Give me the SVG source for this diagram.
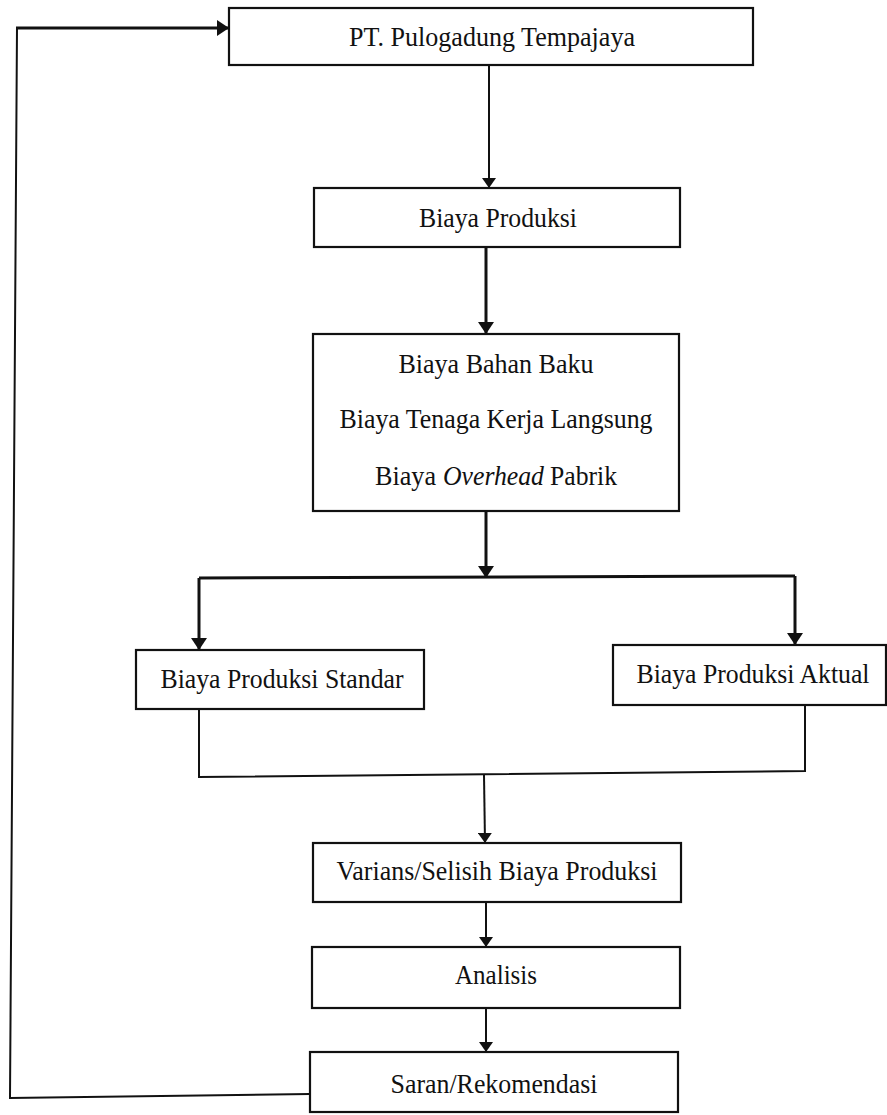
<svg xmlns="http://www.w3.org/2000/svg" width="887" height="1115" viewBox="0 0 887 1115">
<defs>
<style>
.box{fill:#fff;stroke:#111;stroke-width:2.2}
.t{font-family:"Liberation Serif","Times New Roman",serif;font-size:28px;fill:#111;text-anchor:middle}
.s{text-anchor:start}
.c{fill:none;stroke:#111;stroke-width:2}
.ct{fill:none;stroke:#111;stroke-width:3}
</style>
<marker id="ah" viewBox="0 0 10 14" refX="10" refY="7" markerWidth="10" markerHeight="14" markerUnits="userSpaceOnUse" orient="auto">
<path d="M0,0 L10,7 L0,14 Z" fill="#111"/>
</marker>
<marker id="ahb" viewBox="0 0 12 16" refX="12" refY="8" markerWidth="12" markerHeight="16" markerUnits="userSpaceOnUse" orient="auto">
<path d="M0,0 L12,8 L0,16 Z" fill="#111"/>
</marker>
</defs>
<rect width="887" height="1115" fill="#fff"/>
<g id="connectors">
<line class="c" x1="489" y1="65" x2="489" y2="188" marker-end="url(#ah)"/>
<line class="ct" x1="486" y1="247" x2="486" y2="334" marker-end="url(#ahb)"/>
<line class="ct" x1="486" y1="511" x2="486" y2="578" marker-end="url(#ahb)"/>
<polyline class="ct" points="199,578 795,576"/>
<line class="ct" x1="199" y1="578" x2="199" y2="650" marker-end="url(#ahb)"/>
<line class="ct" x1="795" y1="576" x2="795" y2="645" marker-end="url(#ahb)"/>
<polyline class="c" points="199,709 199,777 805,771 805,705"/>
<line class="c" x1="484" y1="775" x2="485" y2="843" marker-end="url(#ah)"/>
<line class="c" x1="486" y1="902" x2="486" y2="947" marker-end="url(#ah)"/>
<line class="c" x1="486" y1="1008" x2="486" y2="1052" marker-end="url(#ah)"/>
<polyline class="c" points="310,1094 10,1098 17,28 80,28"/>
<line class="ct" x1="16" y1="28" x2="229" y2="28" stroke-width="4" marker-end="url(#ahb)"/>
</g>
<g id="n1">
<rect class="box" x="229" y="8" width="524" height="57"/>
<text class="t" x="492" y="46" textLength="286" lengthAdjust="spacingAndGlyphs">PT. Pulogadung Tempajaya</text>
</g>
<g id="n2">
<rect class="box" x="314" y="188" width="366" height="59"/>
<text class="t" x="498" y="227" textLength="158" lengthAdjust="spacingAndGlyphs">Biaya Produksi</text>
</g>
<g id="n3">
<rect class="box" x="313" y="334" width="366" height="177"/>
<text class="t" x="496" y="373" textLength="195" lengthAdjust="spacingAndGlyphs">Biaya Bahan Baku</text>
<text class="t" x="496" y="428" textLength="313" lengthAdjust="spacingAndGlyphs">Biaya Tenaga Kerja Langsung</text>
<text class="t s" x="375" y="485" textLength="61" lengthAdjust="spacingAndGlyphs">Biaya</text>
<text class="t s" x="443" y="485" textLength="101" lengthAdjust="spacingAndGlyphs" font-style="italic">Overhead</text>
<text class="t s" x="550" y="485" textLength="67" lengthAdjust="spacingAndGlyphs">Pabrik</text>
</g>
<g id="n4">
<rect class="box" x="136" y="650" width="288" height="59"/>
<text class="t" x="282" y="688" textLength="243" lengthAdjust="spacingAndGlyphs">Biaya Produksi Standar</text>
</g>
<g id="n5">
<rect class="box" x="613" y="645" width="273" height="60"/>
<text class="t" x="753" y="683" textLength="233" lengthAdjust="spacingAndGlyphs">Biaya Produksi Aktual</text>
</g>
<g id="n6">
<rect class="box" x="313" y="843" width="368" height="59"/>
<text class="t" x="497" y="880" textLength="321" lengthAdjust="spacingAndGlyphs">Varians/Selisih Biaya Produksi</text>
</g>
<g id="n7">
<rect class="box" x="312" y="947" width="368" height="61"/>
<text class="t" x="496" y="984" textLength="82" lengthAdjust="spacingAndGlyphs">Analisis</text>
</g>
<g id="n8">
<rect class="box" x="310" y="1052" width="368" height="60"/>
<text class="t" x="494" y="1093" textLength="207" lengthAdjust="spacingAndGlyphs">Saran/Rekomendasi</text>
</g>
</svg>
